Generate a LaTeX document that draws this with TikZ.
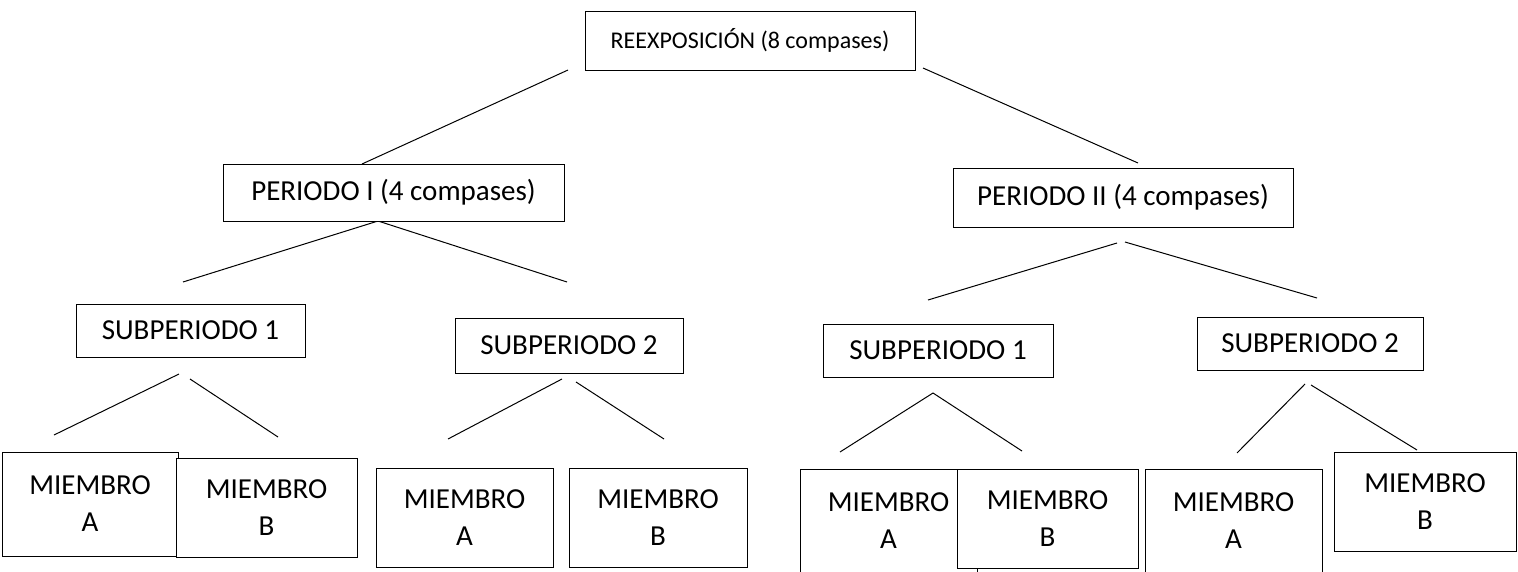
\documentclass[tikz,border=0pt]{standalone}
\usepackage{fontspec}
\setmainfont{Carlito}
\begin{document}
\begin{tikzpicture}
[x=1pt,y=-1pt,
  boxdecorate/.style={shape=rectangle,draw,fill=white,line width=1pt,inner sep=0pt,
    align=center,font=\fontsize{29}{37}\selectfont},%
  linedecorate/.style={-,line width=1pt}]
\useasboundingbox (0,0) rectangle (1518,571);
\clip (0,0) rectangle (1518,571);
%% lines
\foreach \pointname/\x/\y in {
  a1/568/70, a2/362/164, b1/923/68, b2/1138/163,
  c1/378/221, c2/183/282, c3/567/282,
  d1/1117/243, d2/928/300, d3/1125/242, d4/1317/298,
  e1/179/374, e2/54/435, e3/190/379, e4/278/437,
  f1/562/379, f2/448/439, f3/576/382, f4/664/439,
  g1/933/393, g2/840/452, g3/1022/451,
  h1/1305/384, h2/1237/453, h3/1311/385, h4/1417/450}
{
  \coordinate (\pointname) at (\x,\y);
}
\foreach \startpoint/\endpoint in {a1/a2, b1/b2, c1/c2, c1/c3, d1/d2, d3/d4,
  e1/e2, e3/e4, f1/f2, f3/f4, g1/g2, g1/g3, h1/h2, h3/h4}
{
  \draw[linedecorate] (\startpoint) -- (\endpoint);
}
%% boxes
\node (reex) at (750,40.5) [boxdecorate,minimum width=330,minimum height=59,
  font=\fontsize{24}{29}\selectfont] {REEXPOSICIÓN (8 compases)};
\foreach \nodename/\x/\y/\w/\h/\label in {
  per1/393.5/192.5/341/57/{PERIODO I (4 compases)},
  per2/1123/197.5/340/59/{PERIODO II (4 compases)},
  sub1l/190.5/330.5/229/53/{SUBPERIODO 1},
  sub2l/569/345.5/228/55/{SUBPERIODO 2},
  sub1r/938/350.5/230/53/{SUBPERIODO 1},
  sub2r/1310/343.5/226/53/{SUBPERIODO 2},
  mem1a/90/504/176/104/{MIEMBRO\\A},
  mem1b/266.5/507.5/181/99/{MIEMBRO\\B},
  mem2a/464.5/517.5/177/99/{MIEMBRO\\A},
  mem2b/658/517.5/178/99/{MIEMBRO\\B},
  mem3a/888.5/521/177/104/{MIEMBRO\\A},
  mem3b/1047.5/518.5/181/99/{MIEMBRO\\B},
  mem4a/1233.5/521/177/104/{MIEMBRO\\A},
  mem4b/1425/501.5/182/99/{MIEMBRO\\B}}
{
  \node (\nodename) at (\x,\y) [boxdecorate,minimum width=\w,minimum height=\h] {\label};
}
\end{tikzpicture}
\end{document}
